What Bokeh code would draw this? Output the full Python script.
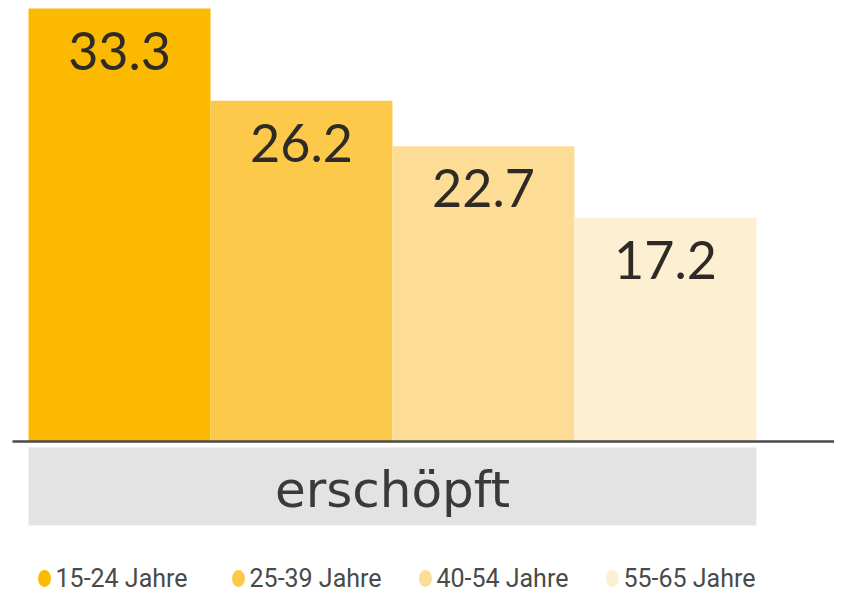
from bokeh.plotting import figure
from bokeh.models import Range1d, ColumnDataSource
from bokeh.core.properties import value
from bokeh.embed import file_html
from bokeh.resources import INLINE

# ---- data ----
groups = ["15-24 Jahre", "25-39 Jahre", "40-54 Jahre", "55-65 Jahre"]
values = [33.3, 26.2, 22.7, 17.2]
value_labels = ["33.3", "26.2", "22.7", "17.2"]
colors = ["#FBBA00", "#FCC94A", "#FDDC95", "#FDF0D2"]
category = "erschöpft"

# ---- layout ----
idx = list(range(len(groups)))
legend_x = [-0.412, 0.654, 1.681, 2.709]
legend_y = -10.54
x_start, x_end = -0.654, 3.929

src = ColumnDataSource(dict(x=idx, top=values, label=value_labels, color=colors))

p = figure(width=834, height=594, output_backend="svg", toolbar_location=None,
           x_range=Range1d(x_start, x_end), y_range=Range1d(-11.77, 33.92),
           min_border=0, background_fill_color="white", border_fill_color="white")
p.outline_line_color = None
p.axis.visible = False
p.grid.visible = False

p.vbar(x="x", top="top", bottom=0, width=1.0, color="color", line_color=None, source=src)

p.text(x="x", y="top", text="label", source=src, y_offset=42,
       text_align="center", text_baseline="middle",
       text_font=value("Lato"), text_font_size="52px", text_color="#2e2a25")

# baseline
p.segment(x0=[-0.588], y0=[0], x1=[x_end], y1=[0], line_color="#4a4a4a", line_width=2.5)

# category box
p.quad(left=-0.5, right=3.5, top=-0.46, bottom=-6.46, fill_color="#E3E3E4", line_color=None)
p.text(x=[1.5], y=[-3.75], text=[category], text_align="center", text_baseline="middle",
       text_font=value("DejaVu Sans"), text_font_size="50px", text_color="#3a3a3a")

# legend
p.ellipse(x=legend_x, y=[legend_y] * 4, width=13, height=17, width_units="screen",
          height_units="screen", fill_color=colors, line_color=None)
p.text(x=legend_x, y=[legend_y] * 4, text=groups, x_offset=11, text_align="left",
       text_baseline="middle", text_font=value("Roboto"), text_font_size="25px",
       text_color="#4a4a4a")

open("out.html", "w").write(file_html(p, INLINE))
